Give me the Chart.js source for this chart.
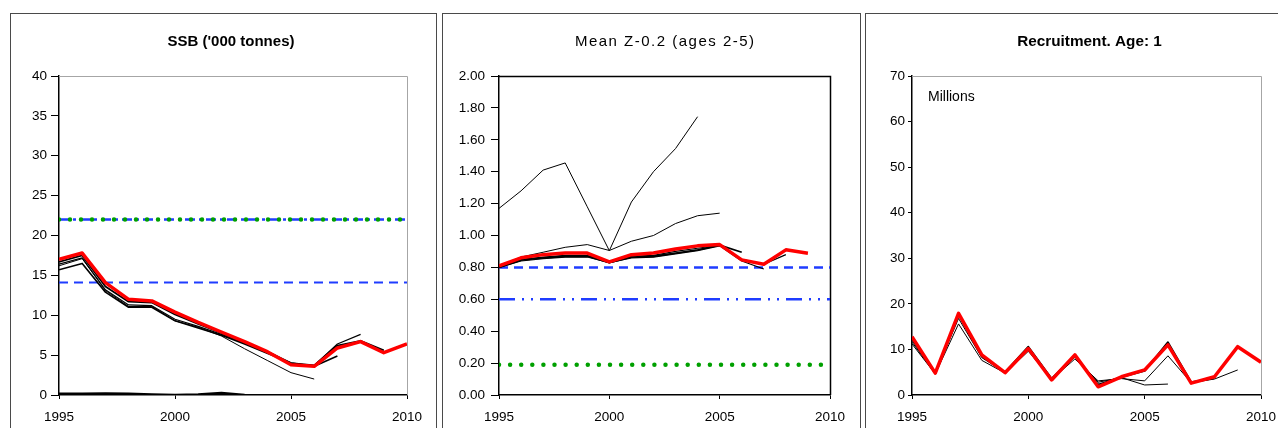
<!DOCTYPE html>
<html>
<head>
<meta charset="utf-8">
<script src="https://cdn.jsdelivr.net/npm/chart.js@4.4.1/dist/chart.umd.min.js"></script>
<style>
  html, body { margin: 0; padding: 0; background: #fff; }
  body { width: 1278px; height: 428px; position: relative; overflow: hidden; }
  .frame { position: absolute; border: 1px solid #4a4a4a; box-sizing: border-box; }
  canvas { position: absolute; }
</style>
</head>
<body>
<div class="frame" style="left:10px;top:13px;width:427px;height:430px;"></div>
<div class="frame" style="left:442px;top:13px;width:419px;height:430px;"></div>
<div class="frame" style="left:865px;top:13px;width:430px;height:430px;"></div>
<canvas id="ssb" style="left:11px;top:14px;" width="424" height="414"></canvas>
<canvas id="mz" style="left:443px;top:14px;" width="416" height="414"></canvas>
<canvas id="rec" style="left:866px;top:14px;" width="412" height="414"></canvas>
<script>
// Assessment years on the horizontal axis
const years = [1995, 1996, 1997, 1998, 1999, 2000, 2001, 2002, 2003, 2004, 2005, 2006, 2007, 2008, 2009, 2010];
const yearTicks = [1995, 2000, 2005, 2010];

// Spawning stock biomass ('000 t), latest assessment and earlier runs
const ssbLatest = [17.0, 17.8, 14.1, 12.0, 11.8, 10.4, 9.1, 7.9, 6.7, 5.4, 3.8, 3.6, 5.9, 6.7, 5.3, 6.4];
const ssbRunA   = [16.7, 17.5, 13.6, 11.7, 11.6, 10.1, 8.9, 7.8, 6.6, 5.4, 4.0, 3.7, 6.2, 6.8, 5.6, null];
const ssbRunB   = [16.4, 17.2, 13.2, 11.3, 11.2, 9.5, 8.6, 7.6, 6.5, 5.3, 3.9, 3.7, 6.4, 7.6, null, null];
const ssbRunC   = [15.7, 16.5, 12.9, 11.0, 11.0, 9.3, 8.4, 7.5, 6.4, 5.2, 4.0, 3.6, 4.9, null, null, null];
const ssbRunD   = [16.2, 17.1, 13.1, 11.1, 11.1, 9.3, 8.5, 7.4, 5.8, 4.3, 2.8, 2.0, null, null, null, null];
const ssbRunE   = [0.15, 0.15, 0.2, 0.15, 0.05, 0.0, 0.05, 0.25, 0.0, null, null, null, null, null, null, null];
const ssbBpa = 22.0;
const ssbBlim = 22.0;
const ssbTrigger = 14.1;
const ssbTicks = [0, 5, 10, 15, 20, 25, 30, 35, 40];

// Mean Z - 0.2 over ages 2-5
const mzLatest = [0.81, 0.86, 0.88, 0.89, 0.89, 0.835, 0.88, 0.89, 0.915, 0.935, 0.943, 0.847, 0.82, 0.91, 0.889, null];
const mzRunA   = [1.17, 1.28, 1.41, 1.455, 1.18, 0.905, 1.21, 1.40, 1.545, 1.745, null, null, null, null, null, null];
const mzRunB   = [0.81, 0.865, 0.895, 0.926, 0.943, 0.906, 0.964, 1.0, 1.075, 1.124, 1.14, null, null, null, null, null];
const mzRunC   = [0.80, 0.845, 0.86, 0.87, 0.87, 0.83, 0.865, 0.87, 0.89, 0.91, 0.94, 0.895, null, null, null, null];
const mzRunD   = [0.80, 0.84, 0.855, 0.865, 0.865, 0.83, 0.86, 0.865, 0.885, 0.905, 0.935, 0.84, 0.79, null, null, null];
const mzRunE   = [0.80, 0.85, 0.865, 0.875, 0.875, 0.83, 0.87, 0.875, 0.90, 0.92, 0.94, 0.85, 0.82, 0.88, null, null];
const mzFpa = 0.80;
const mzFlim = 0.60;
const mzTarget = 0.19;
const mzTicks = [0, 0.2, 0.4, 0.6, 0.8, 1.0, 1.2, 1.4, 1.6, 1.8, 2.0];

// Recruitment at age 1 (millions)
const recLatest = [12.8, 4.8, 17.9, 8.8, 4.9, 10.2, 3.3, 8.8, 1.8, 4.0, 5.5, 11.0, 2.6, 4.0, 10.6, 7.2];
const recRunA   = [12.2, 4.7, 17.6, 8.5, 5.0, 10.6, 3.6, 8.7, 2.3, 3.9, 5.3, 11.6, 2.8, 3.7, null, null];
const recRunB   = [11.2, 4.6, 15.6, 7.6, 4.8, 9.6, 3.4, 7.9, 3.1, 3.6, 3.1, 8.6, 2.7, 3.5, 5.5, null];
const recRunC   = [11.6, 4.7, 16.8, 8.2, 4.9, 10.0, 3.5, 8.3, 2.8, 3.8, 2.2, 2.4, null, null, null, null];
const recTicks = [0, 10, 20, 30, 40, 50, 60, 70];

const FONT = "'Liberation Sans', Arial, sans-serif";

function pts(values) {
  return years.map((y, i) => ({ x: y, y: values[i] }));
}
function flat(v) {
  return [{ x: years[0], y: v }, { x: years[years.length - 1], y: v }];
}
function line(values, color, width, order) {
  return { data: pts(values), borderColor: color, borderWidth: width, pointRadius: 0,
           tension: 0, spanGaps: false, order: order, borderJoinStyle: 'round' };
}
function refLine(v, color, width, dash, order, cap) {
  return { data: flat(v), borderColor: color, borderWidth: width, borderDash: dash,
           borderCapStyle: cap || 'butt', pointRadius: 0, order: order };
}

// Frame around the plotting area (top and right edges)
const areaFrame = {
  id: 'areaFrame',
  beforeDatasetsDraw(chart, args, opts) {
    const a = chart.chartArea, c = chart.ctx;
    c.save();
    c.strokeStyle = opts.color || '#a0a0a0';
    c.lineWidth = opts.width || 1;
    c.beginPath();
    c.moveTo(a.left, a.top + 0.5);
    c.lineTo(a.right + 0.5, a.top + 0.5);
    c.lineTo(a.right + 0.5, a.bottom);
    c.stroke();
    c.restore();
  }
};

// Panel heading, centred over the plotting area
const panelTitle = {
  id: 'panelTitle',
  afterDraw(chart, args, opts) {
    const a = chart.chartArea, c = chart.ctx;
    const sp = opts.spacing || 0;
    c.save();
    c.font = opts.weight + ' ' + opts.size + 'px ' + FONT;
    c.letterSpacing = sp + 'px';
    c.fillStyle = '#000';
    c.textAlign = 'center';
    c.textBaseline = 'middle';
    c.fillText(opts.text, (a.left + a.right) / 2 + sp / 2 + (opts.shift || 0), 28);
    c.restore();
  }
};

// Unit note inside the plotting area
const unitNote = {
  id: 'unitNote',
  afterDraw(chart, args, opts) {
    if (!opts.text) return;
    const a = chart.chartArea, c = chart.ctx;
    c.save();
    c.font = '14px ' + FONT;
    c.fillStyle = '#000';
    c.textBaseline = 'middle';
    c.fillText(opts.text, a.left + 16, a.top + 21);
    c.restore();
  }
};

function makeChart(id, cfg) {
  return new Chart(document.getElementById(id), {
    type: 'line',
    data: { datasets: cfg.datasets },
    plugins: [areaFrame, panelTitle, unitNote],
    options: {
      responsive: false,
      animation: false,
      events: [],
      layout: { padding: { left: 0, right: cfg.padRight, top: 62, bottom: 0 } },
      plugins: {
        legend: { display: false },
        tooltip: { enabled: false },
        title: { display: false },
        panelTitle: { text: cfg.title, size: cfg.titleSize, weight: cfg.titleWeight,
                      spacing: cfg.titleSpacing, shift: cfg.titleShift },
        areaFrame: { color: cfg.frameColor, width: cfg.frameWidth },
        unitNote: { text: cfg.note || '' }
      },
      scales: {
        x: {
          type: 'linear', min: 1995, max: 2010,
          afterFit(s) { s.height = 33; s.paddingLeft = 0; s.paddingRight = 0; },
          afterBuildTicks(s) { s.ticks = yearTicks.map(v => ({ value: v })); },
          ticks: { color: '#000', font: { family: FONT, size: 13.5 }, padding: 10,
                   maxRotation: 0, autoSkip: false, callback: v => String(v) },
          grid: { drawOnChartArea: false, drawTicks: true, tickLength: 4, color: '#000', lineWidth: 1 },
          border: { color: '#000', width: 1.5 }
        },
        y: {
          type: 'linear', min: cfg.yTicks[0], max: cfg.yTicks[cfg.yTicks.length - 1],
          afterFit(s) { s.width = cfg.axisWidth; },
          afterBuildTicks(s) { s.ticks = cfg.yTicks.map(v => ({ value: v })); },
          ticks: { color: '#000', font: { family: FONT, size: 13.5 }, padding: cfg.yPad,
                   autoSkip: false, callback: cfg.yFormat },
          grid: { drawOnChartArea: false, drawTicks: true, tickLength: cfg.yTickLen, color: '#000', lineWidth: 1 },
          border: { color: '#000', width: 1.5 }
        }
      }
    }
  });
}

makeChart('ssb', {
  title: "SSB ('000 tonnes)", titleSize: 15, titleWeight: 'bold', titleSpacing: 0, titleShift: -2,
  padRight: 28, axisWidth: 48, yTicks: ssbTicks, yFormat: v => String(v), yTickLen: 8, yPad: 4,
  frameColor: '#a6a6a6', frameWidth: 1,
  datasets: [
    line(ssbLatest, '#ff0000', 3.5, 0),
    line(ssbRunA, '#000', 1.8, 1),
    line(ssbRunB, '#000', 1.2, 2),
    line(ssbRunC, '#000', 1.6, 3),
    line(ssbRunD, '#000', 1, 4),
    line(ssbRunE, '#000', 2.5, 5),
    refLine(ssbBpa, '#00a000', 4.5, [0, 11], 8, 'round'),
    refLine(ssbBlim, '#1f3cff', 2.5, [10, 4, 3, 4], 9),
    refLine(ssbTrigger, '#1f3cff', 2, [9, 6], 9)
  ]
});

makeChart('mz', {
  title: 'Mean Z-0.2 (ages 2-5)', titleSize: 15, titleWeight: 'normal', titleSpacing: 1.5, titleShift: 0,
  padRight: 29, axisWidth: 56, yTicks: mzTicks, yFormat: v => v.toFixed(2), yTickLen: 8, yPad: 6,
  frameColor: '#000', frameWidth: 1.5,
  datasets: [
    line(mzLatest, '#ff0000', 3.5, 0),
    line(mzRunA, '#000', 1, 1),
    line(mzRunB, '#000', 1, 2),
    line(mzRunC, '#000', 1.8, 3),
    line(mzRunD, '#000', 1.2, 4),
    line(mzRunE, '#000', 1.2, 5),
    refLine(mzFpa, '#1f3cff', 2.5, [9, 6], 8),
    refLine(mzFlim, '#1f3cff', 2.5, [16, 7, 2, 7, 2, 7], 8),
    refLine(mzTarget, '#00a000', 4.5, [0, 11.1], 8, 'round')
  ]
});

makeChart('rec', {
  title: 'Recruitment. Age: 1', titleSize: 15.3, titleWeight: 'bold', titleSpacing: 0, titleShift: 3,
  padRight: 17, axisWidth: 46, yTicks: recTicks, yFormat: v => String(v), yTickLen: 4, yPad: 3,
  frameColor: '#a6a6a6', frameWidth: 1, note: 'Millions',
  datasets: [
    line(recLatest, '#ff0000', 3.5, 0),
    line(recRunA, '#000', 1.8, 1),
    line(recRunB, '#000', 1, 2),
    line(recRunC, '#000', 1, 3)
  ]
});
</script>
</body>
</html>
